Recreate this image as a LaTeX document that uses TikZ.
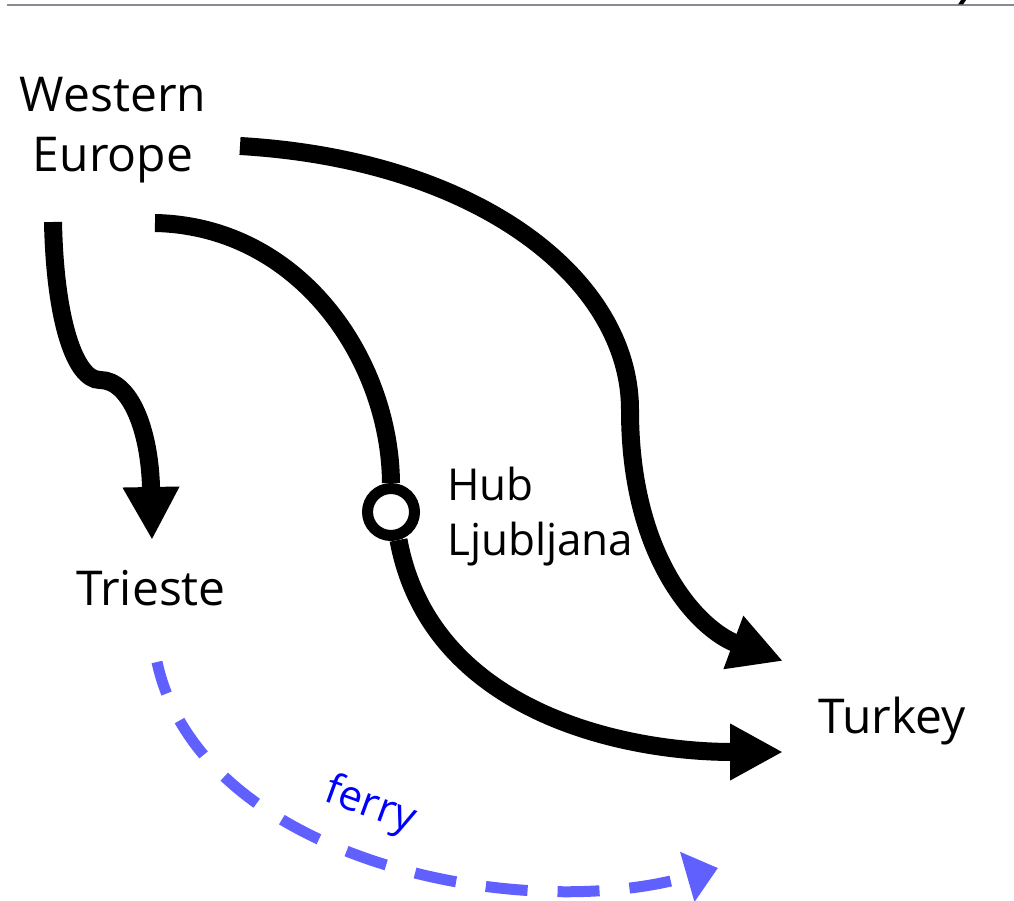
\documentclass[tikz,border=0pt]{standalone}
\usepackage{fontspec}
\setmainfont{Open Sans}
\usetikzlibrary{arrows.meta}
\definecolor{rulegray}{RGB}{138,138,148}
\definecolor{ferryblue}{RGB}{96,96,255}
\begin{document}
\begin{tikzpicture}[x=1pt,y=-1pt,
  plain/.style={line width=18pt},
  route/.style={line width=18pt,-{Triangle[length=53pt,width=53pt]}},
  ferryline/.style={line width=11pt,color=ferryblue,dash pattern=on 42pt off 30pt,dash phase=9pt,-{Triangle[length=32pt,width=50pt]}},
  lbl/.style={font=\fontsize{48}{60}\selectfont,inner sep=0pt},
  hublbl/.style={font=\fontsize{44}{55}\selectfont,inner sep=0pt},
  ferrylbl/.style={font=\fontsize{42}{50}\selectfont,inner sep=0pt,text=blue},
  hubring/.style={circle,draw,line width=11pt,fill=white,minimum size=47pt,inner sep=0pt}]
\useasboundingbox (0,0) rectangle (1014,901);
\draw[line width=2.5pt,rulegray] (7,5) -- (1014,5);
\fill (961,0) -- (966,0) -- (963,4.5) -- (958,4.5) -- cycle;
% labels
\node[lbl,align=center,anchor=base] (we) at (113,172) {Western\\Europe};
\node[lbl,anchor=base] (trieste) at (151,605) {Trieste};
\node[lbl,anchor=base west] (turkey) at (818,733) {Turkey};
\node[hublbl,align=left,anchor=base west] (hublabel) at (447,555) {Hub\\Ljubljana};
\node[hubring] (hub) at (391,512) {};
% route ends
\coordinate (s1) at (53,222);
\coordinate (k1) at (100,380);
\coordinate (t1) at (152,540);
\coordinate (s2) at (155,223);
\coordinate (t2) at (783,752);
\coordinate (s3) at (240,146);
\coordinate (m3) at (630,410);
\coordinate (t3) at (783,661);
\coordinate (f1) at (157,662);
\coordinate (f2) at (718,868);
% routes
\draw[route] (s1) .. controls (55,320) and (75,380) .. (k1) .. controls (130,380) and (150,430) .. (t1);
\draw[plain] (s2) .. controls (300,226) and (390,360) .. (hub.north);
\draw[route] (hub.-75) .. controls (430,710) and (620,752) .. (t2);
\draw[route] (s3) .. controls (480,160) and (630,280) .. (m3) .. controls (630,560) and (700,630) .. (t3);
\draw[ferryline] (f1) .. controls (200,860) and (520,925) .. (f2);
\node[ferrylbl,rotate=-20] (ferry) at (370,806) {ferry};
\end{tikzpicture}
\end{document}
